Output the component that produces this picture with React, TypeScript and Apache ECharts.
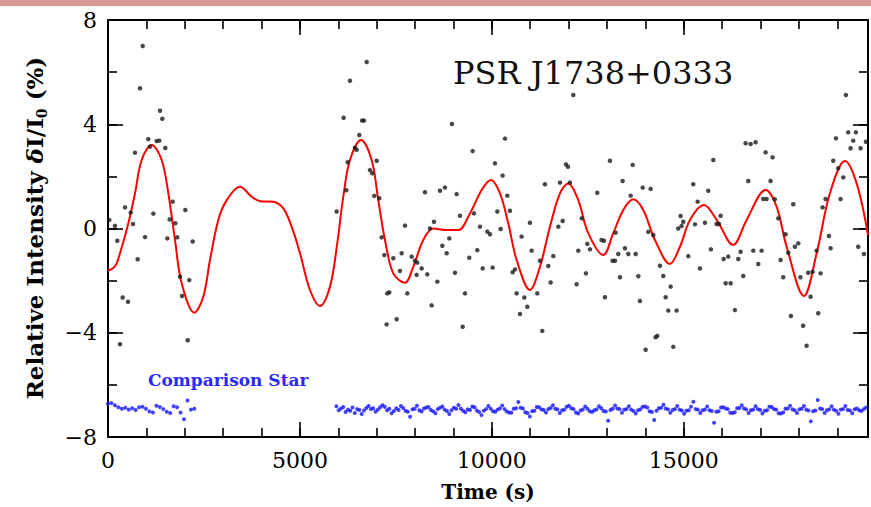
import React, { useEffect, useRef } from "react";
import * as echarts from "echarts";

// Time axis (s) and relative intensity axis (%)
const X_MIN = 0;
const X_MAX = 19800;
const X_MAJOR = 5000;
const X_MINOR = 1000;
const Y_MIN = -8;
const Y_MAX = 8;
const Y_MAJOR = 4;
const Y_MINOR = 2;

const TITLE = "PSR J1738+0333";
const COMP_LABEL = "Comparison Star";

// Pulsar photometry: [time (s), δI/I0 (%)]
const pulsarPoints: [number, number][] = [
  [35, 0.33], [182, 0.1], [243, -0.47], [313, -4.44], [382, -2.65], [443, 0.81], [521, -2.81],
  [591, 0.61], [651, 0.17], [703, 2.91], [773, -1.18], [834, 5.38], [904, 7.0], [964, -0.33],
  [1050, 3.43], [1094, 3.14], [1181, 0.57], [1268, 3.36], [1337, 3.37], [1355, 4.52], [1415, 4.21],
  [1493, 3.09], [1546, -0.38], [1607, 0.35], [1685, 1.03], [1754, 0.2], [1806, -0.34], [1876, -1.85],
  [1928, -2.59], [2014, 0.71], [2076, -4.29], [2118, -1.98], [2206, -0.5],
  [5957, 0.65], [6139, 4.25], [6209, 1.47], [6243, 2.54], [6304, 5.67], [6434, 3.1], [6478, 3.02],
  [6547, 3.59], [6620, 4.14], [6670, 4.14], [6739, 6.39], [6825, 2.24], [6886, 2.12], [6937, 1.25],
  [7000, 2.6], [7068, 1.16], [7129, -0.34], [7198, -1.02], [7259, -3.68], [7276, -2.49], [7329, -2.45],
  [7433, -1.14], [7520, -3.48], [7607, -1.63], [7650, -0.95], [7737, 0.11], [7798, -2.49], [7911, -1.08],
  [7997, -1.24], [8041, -1.78], [8058, -1.31], [8171, -1.53], [8258, 1.39], [8318, -1.76], [8388, 0.0],
  [8432, -2.95], [8493, 0.26], [8580, -2.04], [8649, 1.45], [8710, -0.66], [8779, 1.57], [8823, -0.95],
  [8892, -0.38], [8961, 4.01], [9040, -1.7], [9083, 1.32], [9170, 0.49], [9240, -3.77], [9300, -2.49],
  [9413, -1.12], [9500, 2.97], [9535, 0.58], [9622, -0.83], [9691, 0.07], [9761, -1.53], [9882, -0.12],
  [9952, -0.22], [10021, -1.5], [10082, 2.5], [10142, 0.65], [10230, -0.02], [10281, 2.03], [10342, 3.45],
  [10403, 1.26], [10472, 0.68], [10542, -1.68], [10603, -1.57], [10646, -2.49], [10733, -3.28], [10776, -0.31],
  [10846, -2.65], [10924, -3.0], [10993, 0.22], [11037, -0.85], [11184, -2.49], [11254, -1.24], [11314, -3.93],
  [11384, 1.7], [11471, -1.44], [11532, -2.07], [11601, -1.06], [11732, 0.07], [11775, 1.76], [11845, 0.29],
  [11931, 2.46], [11983, 2.37], [12035, 1.76], [12122, 5.12], [12209, -2.14], [12252, -0.85], [12340, 0.39],
  [12452, -1.72], [12487, -0.59], [12556, -0.8], [12747, 1.37], [12859, -0.44], [12921, -0.47], [12947, -2.64],
  [13077, 2.6], [13146, -1.24], [13207, -1.24], [13225, -0.16], [13294, -0.98], [13338, -1.87], [13407, 1.82],
  [13468, -0.76], [13555, -0.98], [13616, 1.26], [13668, 2.44], [13746, -0.98], [13816, -1.83], [13859, -2.78],
  [13929, 1.57], [14007, -4.65], [14075, -0.13], [14137, 1.52], [14206, -0.25], [14266, -4.17], [14310, -4.12],
  [14380, -1.43], [14467, -1.82], [14528, -2.64], [14597, -3.15], [14658, -2.23], [14727, -4.54], [14814, -3.15],
  [14857, 0.0], [14918, 0.48], [14944, 0.1], [14987, 0.26], [15118, -1.06], [15248, 1.7], [15292, 0.16],
  [15361, 1.03], [15422, -1.53], [15552, 0.22], [15639, 1.45], [15708, -0.8], [15770, 2.63], [15856, 0.17],
  [15917, 0.17], [15960, 0.49], [16038, -1.17], [16091, -2.1], [16160, -1.08], [16221, -2.1], [16333, -3.13],
  [16420, -1.17], [16481, -0.89], [16550, -1.82], [16611, 3.27], [16680, 1.82], [16742, 3.24], [16811, -0.85],
  [16872, 3.31], [16941, -1.36], [17028, -0.85], [17071, 1.13], [17132, 2.92], [17158, 1.13], [17262, 1.82],
  [17314, 2.73], [17371, 1.12], [17462, 0.39], [17523, -1.21], [17592, -1.87], [17653, -0.22], [17722, -0.93],
  [17792, -3.36], [17853, 0.93], [17896, -0.7], [17983, -0.57], [18040, -1.87], [18110, -3.73], [18200, -4.5],
  [18243, -1.7], [18304, -2.62], [18356, -1.66], [18460, -0.85], [18504, -3.25], [18565, -1.72], [18617, 0.81],
  [18695, 1.13], [18782, -0.29], [18826, -0.76], [18895, 2.6], [18964, 3.46], [19025, 2.31], [19086, 1.13],
  [19155, 1.96], [19225, 5.12], [19285, 3.69], [19346, 3.08], [19415, 3.37], [19485, 3.69], [19546, -0.7],
  [19607, 3.08], [19694, -0.98], [19746, 3.33],
];

// Fitted light curve: [time (s), δI/I0 (%)]
const fitCurve: [number, number][] = [
  [0, -1.62], [182, -1.45], [313, -0.95], [530, 0.2], [703, 1.35], [877, 2.63], [1137, 3.2],
  [1398, 2.63], [1572, 1.35], [1745, -0.44], [1919, -2.1], [2249, -3.23], [2483, -2.62], [2657, -1.21],
  [2874, 0.33], [3092, 1.09], [3439, 1.6], [3743, 1.22], [3960, 1.05], [4307, 1.03], [4567, 0.77],
  [4785, 0.07], [5002, -0.95], [5262, -2.36], [5523, -2.97], [5783, -2.23], [5970, -0.6], [6130, 1.22],
  [6304, 2.63], [6591, 3.4], [6869, 2.63], [7041, 1.09], [7216, -0.44], [7432, -1.72], [7737, -2.08],
  [7953, -1.47], [8214, -0.44], [8474, 0.0], [8823, -0.06], [9125, -0.06], [9430, 0.58], [9735, 1.48],
  [9977, 1.86], [10212, 1.35], [10428, 0.2], [10647, -1.21], [10993, -2.36], [11254, -1.47], [11514, 0.07],
  [11775, 1.35], [11991, 1.73], [12251, 1.09], [12512, -0.18], [12903, -1.02], [13164, -0.18], [13424, 0.71],
  [13684, 1.12], [13945, 0.71], [14249, -0.44], [14640, -1.36], [14901, -0.7], [15162, 0.33], [15527, 0.9],
  [15857, 0.33], [16289, -0.63], [16638, 0.33], [17133, 1.48], [17419, 0.84], [17680, -0.7], [18131, -2.59],
  [18462, -0.95], [18808, 1.35], [19199, 2.59], [19504, 1.73], [19800, -0.25],
];

// Comparison star, first block: start time, cadence (s) and values (%)
const compLeftStart = 0;
const compLeftStep = 90;
const compLeft = [
  -6.72, -6.7, -6.78, -6.86, -6.92, -6.88, -6.95, -6.9, -6.96, -6.86, -6.84, -6.92, -7.02,
  -7.06, -6.8, -6.85, -6.93, -7.03, -7.08, -6.82, -6.86, -7.06, -7.32, -6.6, -6.95, -6.92,
];

// Comparison star, second block
const compRightStart = 5950;
const compRightStep = 60;
const compRight = [
  -6.82, -6.97, -6.91, -6.85, -7.04, -6.95, -6.99, -6.87, -7.08, -6.93,
  -6.96, -7.12, -6.98, -6.89, -6.81, -6.93, -6.9, -7.03, -6.95, -6.86,
  -6.78, -6.84, -6.97, -6.92, -7.09, -7.0, -6.9, -6.96, -6.81, -6.89,
  -6.99, -7.03, -7.22, -6.94, -6.92, -6.8, -6.97, -7.02, -6.91, -6.87,
  -6.85, -6.96, -7.01, -7.09, -6.93, -6.88, -6.83, -6.95, -7.0, -7.12,
  -6.97, -6.88, -6.92, -6.77, -6.91, -6.99, -7.05, -6.94, -6.96, -6.83,
  -6.86, -6.98, -7.04, -7.16, -6.99, -6.93, -6.81, -6.92, -7.01, -7.03,
  -6.95, -6.91, -6.79, -6.93, -7.02, -7.06, -7.07, -6.92, -6.9, -6.66,
  -6.88, -6.91, -7.05, -7.08, -7.21, -7.01, -6.99, -6.85, -6.86, -6.94,
  -6.96, -7.06, -6.93, -6.89, -6.78, -6.92, -6.94, -7.08, -6.97, -6.95,
  -6.84, -6.8, -6.9, -6.93, -7.06, -7.1, -6.98, -6.95, -6.83, -6.92,
  -7.01, -7.04, -6.97, -6.94, -6.82, -6.9, -7.0, -7.02, -7.38, -6.96,
  -6.92, -6.79, -6.91, -6.93, -7.07, -6.95, -6.93, -6.82, -6.95, -7.0,
  -7.1, -6.97, -6.94, -6.84, -6.83, -6.87, -7.01, -7.04, -7.35, -6.99,
  -6.9, -6.88, -6.76, -6.91, -6.94, -7.07, -6.96, -6.93, -6.81, -6.95,
  -6.98, -7.11, -6.99, -6.97, -6.84, -6.65, -6.93, -6.95, -7.08, -6.97,
  -6.95, -6.83, -6.97, -7.0, -7.45, -7.03, -7.01, -6.87, -6.86, -6.91,
  -6.93, -7.07, -7.08, -7.05, -6.9, -6.89, -6.78, -6.91, -6.94, -7.08,
  -6.97, -6.95, -6.82, -6.93, -6.96, -7.1, -6.99, -6.97, -6.84, -6.85,
  -6.93, -6.95, -7.09, -7.1, -7.06, -6.92, -6.91, -6.8, -6.94, -6.97,
  -7.08, -6.94, -6.92, -6.81, -6.95, -6.98, -7.4, -7.01, -6.98, -6.58,
  -6.91, -6.93, -7.08, -6.97, -6.94, -6.82, -6.95, -6.99, -7.11, -6.95,
  -6.93, -6.81, -6.96, -6.98, -7.09, -6.94, -6.91, -6.97, -7.0, -6.93, -6.87,
];

const SERIF = "'DejaVu Serif', 'Liberation Serif', serif";

function xAxisDef(position: "bottom" | "top", interval: number, tickLen: number, labels: boolean) {
  return {
    type: "value",
    min: X_MIN,
    max: X_MAX,
    interval,
    position,
    axisLine: { show: true, onZero: false, lineStyle: { color: "#000", width: 2 } },
    axisTick: { show: true, inside: true, length: tickLen, lineStyle: { color: "#000", width: 1.6 } },
    axisLabel: {
      show: labels,
      showMaxLabel: false,
      margin: 12,
      color: "#000",
      fontFamily: SERIF,
      fontSize: 22,
      formatter: (v: number) => String(v),
    },
    splitLine: { show: false },
  };
}

function yAxisDef(position: "left" | "right", interval: number, tickLen: number, labels: boolean) {
  return {
    type: "value",
    min: Y_MIN,
    max: Y_MAX,
    interval,
    position,
    axisLine: { show: true, onZero: false, lineStyle: { color: "#000", width: 2 } },
    axisTick: { show: true, inside: true, length: tickLen, lineStyle: { color: "#000", width: 1.6 } },
    axisLabel: {
      show: labels,
      margin: 11,
      color: "#000",
      fontFamily: SERIF,
      fontSize: 22,
      formatter: (v: number) => String(v).replace("-", "\u2212"),
    },
    splitLine: { show: false },
  };
}

export default function App() {
  const ref = useRef<HTMLDivElement>(null);

  useEffect(() => {
    document.body.style.margin = "0";
    if (!ref.current) return;
    const chart = echarts.init(ref.current, undefined, { renderer: "svg" });

    const compData: [number, number][] = [
      ...compLeft.map((v, i) => [compLeftStart + i * compLeftStep, v] as [number, number]),
      ...compRight.map((v, i) => [compRightStart + i * compRightStep, v] as [number, number]),
    ];

    chart.setOption({
      animation: false,
      backgroundColor: "#fff",
      grid: { left: 108, right: 3, top: 20, bottom: 70, containLabel: false },
      xAxis: [
        xAxisDef("bottom", X_MAJOR, 15, true),
        xAxisDef("bottom", X_MINOR, 9, false),
        xAxisDef("top", X_MAJOR, 15, false),
        xAxisDef("top", X_MINOR, 9, false),
      ],
      yAxis: [
        yAxisDef("left", Y_MAJOR, 15, true),
        yAxisDef("left", Y_MINOR, 9, false),
        yAxisDef("right", Y_MAJOR, 15, false),
        yAxisDef("right", Y_MINOR, 9, false),
      ],
      series: [
        {
          name: "fit",
          type: "line",
          data: fitCurve,
          smooth: 0.35,
          showSymbol: false,
          symbol: "none",
          lineStyle: { color: "#ff0000", width: 2 },
          z: 2,
        },
        {
          name: "pulsar",
          type: "scatter",
          data: pulsarPoints,
          symbol: "circle",
          symbolSize: 4.5,
          itemStyle: { color: "#1a1a1a" },
          z: 3,
        },
        {
          name: "comparison",
          type: "scatter",
          data: compData,
          symbol: "circle",
          symbolSize: 4,
          itemStyle: { color: "#1414ff" },
          z: 3,
        },
      ],
      graphic: [
        {
          type: "rect",
          left: 0,
          top: 0,
          shape: { width: 871, height: 6 },
          style: { fill: "#db9696" },
          silent: true,
        },
        {
          type: "text",
          x: 453,
          y: 73,
          style: {
            text: TITLE,
            font: `normal 32px ${SERIF}`,
            fill: "#111",
            align: "left",
            verticalAlign: "middle",
          },
        },
        {
          type: "text",
          x: 148,
          y: 380,
          style: {
            text: COMP_LABEL,
            font: `bold 17px ${SERIF}`,
            fill: "#2a2aff",
            align: "left",
            verticalAlign: "middle",
          },
        },
        {
          type: "text",
          x: 488,
          y: 492,
          style: {
            text: "Time (s)",
            font: `bold 20px ${SERIF}`,
            fill: "#000",
            align: "center",
            verticalAlign: "middle",
          },
        },
        {
          type: "text",
          x: 34,
          y: 228,
          rotation: Math.PI / 2,
          style: {
            text: "{b|Relative Intensity }{i|δ}{b|I/I}{s|0}{b| (%)}",
            align: "center",
            verticalAlign: "middle",
            fill: "#000",
            rich: {
              b: { font: `bold 23px ${SERIF}`, fill: "#000", lineHeight: 30, verticalAlign: "middle" },
              i: { font: `italic bold 23px ${SERIF}`, fill: "#000", lineHeight: 30, verticalAlign: "middle" },
              s: { font: `bold 14px ${SERIF}`, fill: "#000", lineHeight: 30, verticalAlign: "bottom" },
            },
          },
        },
      ],
    });

    return () => chart.dispose();
  }, []);

  return <div ref={ref} style={{ width: 871, height: 507 }} />;
}
